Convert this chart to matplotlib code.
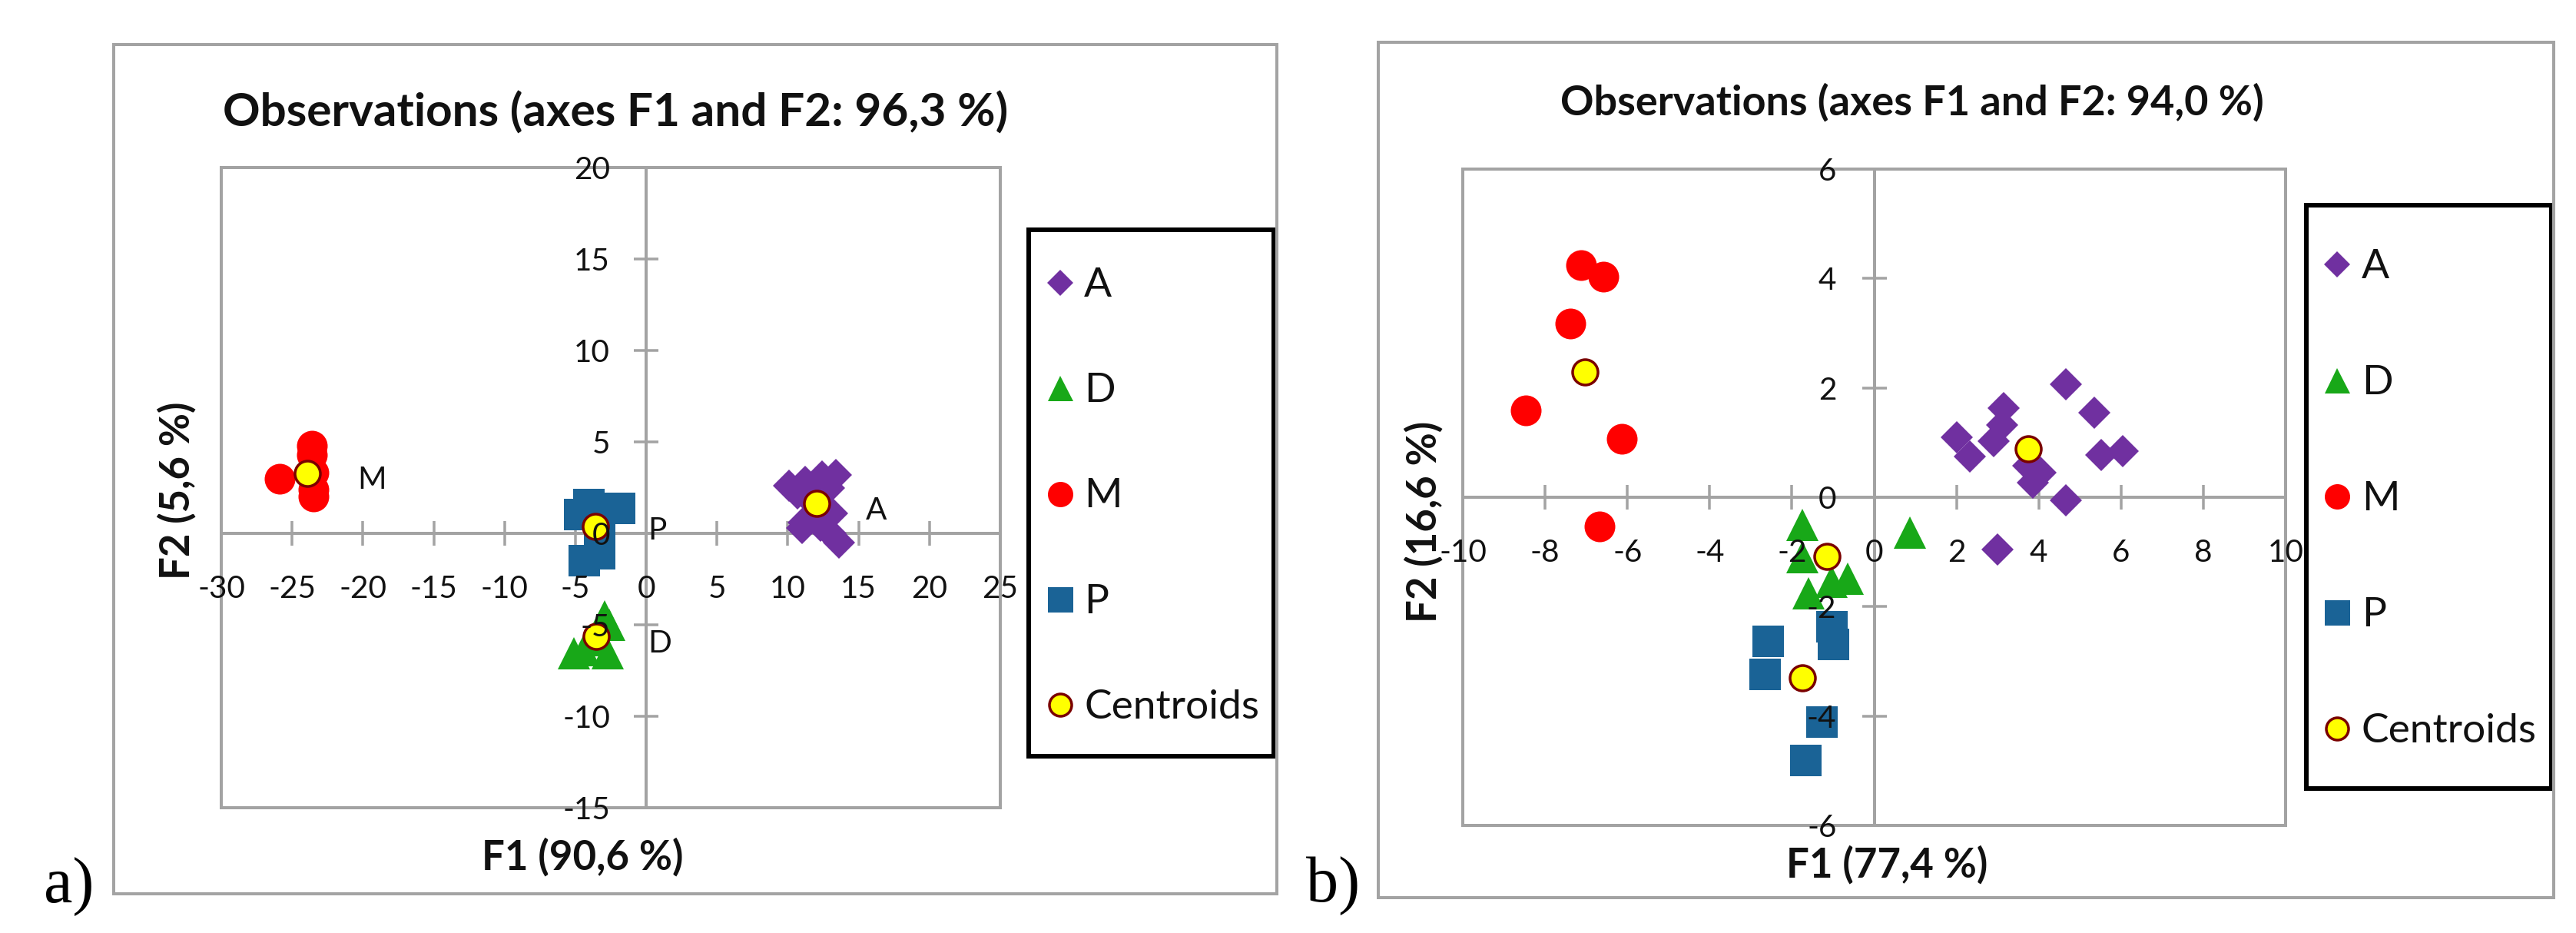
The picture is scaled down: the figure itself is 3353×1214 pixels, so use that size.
import matplotlib
matplotlib.use('Agg')
import matplotlib.pyplot as plt
from matplotlib.patches import Rectangle
from matplotlib.transforms import offset_copy

plt.rcParams['font.family'] = ['Lato', 'DejaVu Sans']

W, H = 3353, 1214
DPI = 100
PT = 72.0 / DPI          # points per pixel

# ------------------------------------------------------------------ data
legend_labels = ['A', 'D', 'M', 'P', 'Centroids']
groups = ['A', 'D', 'M', 'P']

# panel a)
a_title = 'Observations (axes F1 and F2: 96,3 %)'
a_xlabel = 'F1 (90,6 %)'
a_ylabel = 'F2 (5,6 %)'
a_xticks = [-30, -25, -20, -15, -10, -5, 0, 5, 10, 15, 20, 25]
a_yticks = [-15, -10, -5, 0, 5, 10, 15, 20]
a_A_x = [10.1, 10.7, 11.2, 12.4, 13.4, 12.9, 11.6, 12.3, 13.1, 11.1, 11.0, 12.3, 13.0, 13.6]
a_A_y = [2.6, 2.2, 2.8, 3.1, 3.2, 2.5, 1.8, 1.4, 1.1, 0.6, 0.3, 0.4, 0.0, -0.5]
a_D_x = [-2.95, -2.6, -5.1, -2.7, -3.8, -4.4]
a_D_y = [-4.55, -5.0, -6.55, -6.55, -5.85, -6.4]
a_M_x = [-25.9, -23.6, -23.5, -23.5, -23.6, -23.5]
a_M_y = [3.0, 4.8, 2.0, 3.3, 4.3, 2.4]
a_P_x = [-4.1, -1.9, -4.7, -3.3, -4.4, -3.3]
a_P_y = [1.6, 1.4, 1.05, 0.2, -1.45, -1.1]
a_cent_x = [12.06, -3.53, -23.9, -3.58]      # A, D, M, P
a_cent_y = [1.65, -5.63, 3.29, 0.39]
a_lab_x = [15.5, 0.1, -20.4, 0.1]             # A, D, M, P labels
a_lab_y = [1.4, -5.9, 3.05, 0.3]

# panel b)
b_title = 'Observations (axes F1 and F2: 94,0 %)'
b_xlabel = 'F1 (77,4 %)'
b_ylabel = 'F2 (16,6 %)'
b_xticks = [-10, -8, -6, -4, -2, 0, 2, 4, 6, 8, 10]
b_yticks = [-6, -4, -2, 0, 2, 4, 6]
b_A_x = [4.65, 3.15, 5.35, 2.0, 2.91, 2.32, 3.11, 5.51, 6.05, 3.75, 4.05, 3.85, 4.65, 2.99]
b_A_y = [2.07, 1.63, 1.55, 1.1, 1.03, 0.74, 1.32, 0.77, 0.85, 0.58, 0.45, 0.27, -0.05, -0.95]
b_D_x = [-1.74, 0.86, -1.74, -0.64, -1.04, -1.6]
b_D_y = [-0.51, -0.65, -1.1, -1.49, -1.54, -1.76]
b_M_x = [-7.13, -6.59, -7.39, -8.46, -6.13, -6.67]
b_M_y = [4.24, 4.03, 3.18, 1.59, 1.07, -0.53]
b_P_x = [-2.59, -2.67, -1.04, -1.0, -1.28, -1.68]
b_P_y = [-2.63, -3.23, -2.36, -2.68, -4.1, -4.8]
b_cent_x = [3.75, -1.14, -7.03, -1.74]
b_cent_y = [0.88, -1.08, 2.29, -3.3]

# ------------------------------------------------------------------ styles
GRAY = '#a3a3a3'
TXT = '#111111'
SERIF = ['Liberation Serif', 'DejaVu Serif']
style = {
    'A': dict(marker='D', color='#7030a0', ms=30, lms=24),
    'D': dict(marker='^', color='#18a818', ms=42, lms=33),
    'M': dict(marker='o', color='#ff0000', ms=40, lms=33),
    'P': dict(marker='s', color='#1a6396', ms=41, lms=33),
}
CENT_FACE, CENT_EDGE = '#ffff00', '#7a0000'

fig = plt.figure(figsize=(W / DPI, H / DPI), dpi=DPI)
renderer = fig.canvas.get_renderer()


def fit_size(s, target_px, weight='normal', family=None, base=30.0):
    kw = dict(fontsize=base, fontweight=weight)
    if family is not None:
        kw['family'] = family
    t = fig.text(0, 0, s, **kw)
    w = t.get_window_extent(renderer=renderer).width
    t.remove()
    return base * target_px / w


FS_TICK = fit_size('-25', 62)
FS_LEG = fit_size('Centroids', 228)
FS_AXLAB = fit_size('F1 (77,4 %)', 262, weight='bold')
FS_TITLE_A = fit_size(a_title, 1021, weight='bold')
FS_TITLE_B = fit_size(b_title, 914, weight='bold')
FS_PANEL = fit_size('b)', 70, family=SERIF)


def fig_rect(x0, y0, x1, y1):
    return [x0 / W, 1 - y1 / H, (x1 - x0) / W, (y1 - y0) / H]


def outer_box(x0, y0, x1, y1):
    fig.add_artist(Rectangle((x0 / W, 1 - y1 / H), (x1 - x0) / W, (y1 - y0) / H,
                             transform=fig.transFigure, fill=False, ec=GRAY,
                             lw=4 * PT))


def panel(plot_px, xlim, ylim, xticks, yticks, series, cent, labels,
          xlab_off, ylab_off):
    ax = fig.add_axes(fig_rect(*plot_px))
    ax.set_xlim(*xlim)
    ax.set_ylim(*ylim)
    ax.patch.set_alpha(0)
    for s in ['top', 'right']:
        ax.spines[s].set_visible(False)
    for s in ['left', 'bottom']:
        ax.spines[s].set_position(('data', 0))
        ax.spines[s].set_color(GRAY)
        ax.spines[s].set_linewidth(4 * PT)
        ax.spines[s].set_zorder(0.6)
    ax.add_patch(Rectangle((0, 0), 1, 1, transform=ax.transAxes, fill=False,
                           ec=GRAY, lw=4 * PT, zorder=0.6, clip_on=False))
    ax.set_axisbelow(True)
    ax.set_xticks(xticks)
    ax.set_yticks(yticks)
    ax.tick_params(direction='inout', length=32 * PT, width=3.5 * PT, color=GRAY,
                   labelbottom=False, labelleft=False)
    for g in groups:
        st = style[g]
        xs, ys = series[g]
        ax.plot(xs, ys, ls='none', marker=st['marker'], ms=st['ms'] * PT,
                mfc=st['color'], mec=st['color'], mew=0, zorder=3, clip_on=False)
    ax.plot(cent[0], cent[1], ls='none', marker='o', ms=33 * PT, mfc=CENT_FACE,
            mec=CENT_EDGE, mew=3.5 * PT, zorder=4, clip_on=False)
    tx = offset_copy(ax.transData, fig=fig, x=0, y=-xlab_off, units='dots')
    for t in xticks:
        ax.text(t, 0, str(t), transform=tx, ha='center', va='baseline',
                fontsize=FS_TICK, color=TXT, zorder=6)
    ty = offset_copy(ax.transData, fig=fig, x=-ylab_off, y=-15, units='dots')
    for t in yticks:
        ax.text(0, t, str(t), transform=ty, ha='right', va='baseline',
                fontsize=FS_TICK, color=TXT, zorder=6)
    if labels is not None:
        tl = offset_copy(ax.transData, fig=fig, x=0, y=-15, units='dots')
        for txt, lx, ly in zip(groups, labels[0], labels[1]):
            ax.text(lx, ly, txt, transform=tl, ha='left', va='baseline',
                    fontsize=FS_TICK, color=TXT, zorder=6)
    return ax


def legend_box(x0, y0, x1, y1, first, pitch, mx, tx):
    """first / mx / tx are offsets (px) from the box's top-left corner."""
    lax = fig.add_axes(fig_rect(x0, y0, x1, y1))
    lax.set_xlim(0, x1 - x0)
    lax.set_ylim(y1 - y0, 0)
    lax.axis('off')
    lax.add_patch(Rectangle((0, 0), 1, 1, transform=lax.transAxes, fill=False,
                            ec='black', lw=6 * PT, clip_on=False))
    for i, lab in enumerate(legend_labels):
        yy = first + i * pitch
        if lab in style:
            st = style[lab]
            lax.plot([mx], [yy], ls='none', marker=st['marker'], ms=st['lms'] * PT,
                     mfc=st['color'], mec=st['color'], mew=0)
        else:
            lax.plot([mx], [yy], ls='none', marker='o', ms=29 * PT, mfc=CENT_FACE,
                     mec=CENT_EDGE, mew=3.5 * PT)
        lax.text(tx, yy + 18, lab, ha='left', va='baseline', fontsize=FS_LEG,
                 color=TXT)


# ------------------------------------------------------------------ panel a
outer_box(148, 58, 1662, 1163)
panel((288, 218, 1302, 1051), (-30, 25), (-15, 20), a_xticks, a_yticks,
      {'A': (a_A_x, a_A_y), 'D': (a_D_x, a_D_y), 'M': (a_M_x, a_M_y),
       'P': (a_P_x, a_P_y)},
      (a_cent_x, a_cent_y), (a_lab_x, a_lab_y), 84, 47)
legend_box(1339, 299, 1658, 984, 69, 137.25, 41, 72)
fig.text(801 / W, 1 - 165 / H, a_title, ha='center', va='baseline',
         fontsize=FS_TITLE_A, fontweight='bold', color=TXT)
fig.text(758 / W, 1 - 1132 / H, a_xlabel, ha='center', va='baseline',
         fontsize=FS_AXLAB, fontweight='bold', color=TXT)
fig.text(230 / W, 1 - 638 / H, a_ylabel, ha='center', va='center', rotation=90,
         fontsize=FS_AXLAB, fontweight='bold', color=TXT)
fig.text(57 / W, 1 - 1174 / H, 'a)', ha='left', va='baseline',
         fontsize=FS_PANEL, family=SERIF)

# ------------------------------------------------------------------ panel b
outer_box(1794, 55, 3324, 1168)
panel((1904, 220, 2975, 1074), (-10, 10), (-6, 6), b_xticks, b_yticks,
      {'A': (b_A_x, b_A_y), 'D': (b_D_x, b_D_y), 'M': (b_M_x, b_M_y),
       'P': (b_P_x, b_P_y)},
      (b_cent_x, b_cent_y), None, 84, 49)
legend_box(3002, 267, 3321, 1026, 77, 151, 40, 72)
fig.text(2489 / W, 1 - 150 / H, b_title, ha='center', va='baseline',
         fontsize=FS_TITLE_B, fontweight='bold', color=TXT)
fig.text(2456 / W, 1 - 1142 / H, b_xlabel, ha='center', va='baseline',
         fontsize=FS_AXLAB, fontweight='bold', color=TXT)
fig.text(1853 / W, 1 - 679 / H, b_ylabel, ha='center', va='center', rotation=90,
         fontsize=FS_AXLAB, fontweight='bold', color=TXT)
fig.text(1700 / W, 1 - 1173 / H, 'b)', ha='left', va='baseline',
         fontsize=FS_PANEL, family=SERIF)

fig.savefig('out.png', dpi=DPI, facecolor='white')
